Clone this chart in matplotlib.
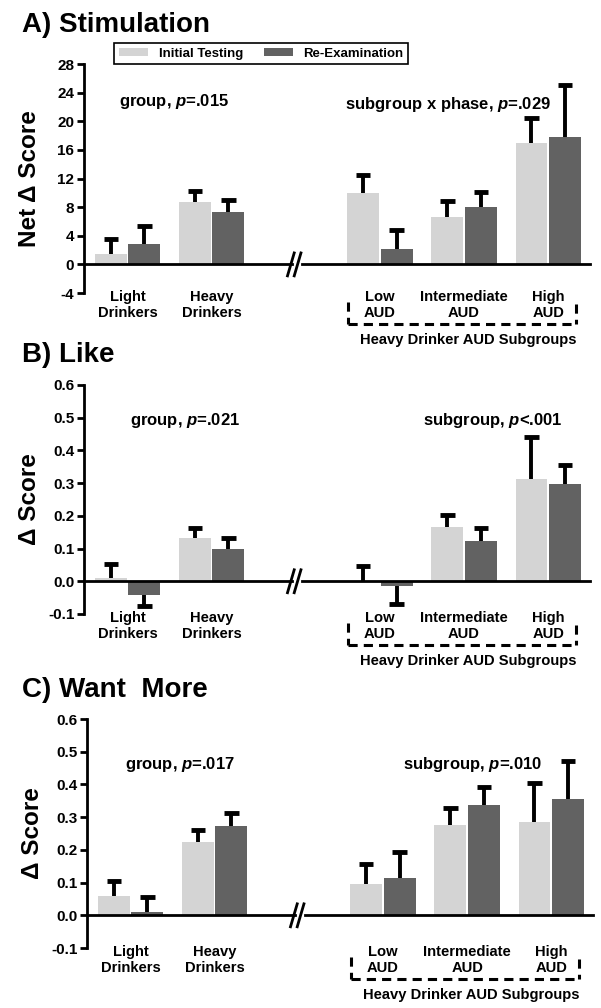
import numpy as np
from matplotlib import pyplot as plt

plt.rcParams['font.family'] = ['Liberation Sans', 'DejaVu Sans']
plt.rcParams['font.weight'] = 'bold'
plt.rcParams['mathtext.fontset'] = 'custom'
plt.rcParams['mathtext.rm'] = 'Liberation Sans:bold'
plt.rcParams['mathtext.it'] = 'Liberation Sans:italic:bold'

# Datos
groups = ['Light\nDrinkers', 'Heavy\nDrinkers', 'Low\nAUD', 'Intermediate\nAUD', 'High\nAUD']
group_x = [0, 1, 3, 4, 5]

stim_initial = [1.5, 8.7, 10.0, 6.6, 16.9]
stim_initial_err = [3.5, 10.3, 12.5, 8.85, 20.4]
stim_reexam = [2.9, 7.3, 2.2, 8.0, 17.8]
stim_reexam_err = [5.3, 9.0, 4.8, 10.1, 25.0]

like_initial = [0.010, 0.131, 0.0, 0.167, 0.313]
like_initial_err = [0.053, 0.162, 0.046, 0.204, 0.44]
like_reexam = [-0.041, 0.099, -0.016, 0.124, 0.296]
like_reexam_err = [-0.077, 0.131, -0.069, 0.163, 0.355]

want_initial = [0.059, 0.223, 0.097, 0.276, 0.286]
want_initial_err = [0.106, 0.261, 0.157, 0.327, 0.403]
want_reexam = [0.011, 0.272, 0.115, 0.338, 0.355]
want_reexam_err = [0.056, 0.314, 0.193, 0.391, 0.472]

panels = [
    dict(title='A) Stimulation', title_y=0.975, ylabel='Net Δ Score', ylim=(-4, 28),
         ticks=np.arange(-4, 29, 4), fmt='{:g}',
         ini=stim_initial, ini_e=stim_initial_err, re=stim_reexam, re_e=stim_reexam_err,
         txt1=('group, $p$=.015', 0.55, 22.7), txt2=('subgroup x phase, $p$=.029', 3.81, 22.4),
         rect=[0.1398, 0.7093, 0.8422, 0.2272]),
    dict(title='B) Like', title_y=0.648, ylabel='Δ Score', ylim=(-0.1, 0.6),
         ticks=np.arange(-0.1, 0.61, 0.1), fmt='{:.1f}',
         ini=like_initial, ini_e=like_initial_err, re=like_reexam, re_e=like_reexam_err,
         txt1=('group, $p$=.021', 0.68, 0.49), txt2=('subgroup, $p$<.001', 4.34, 0.49),
         rect=[0.1398, 0.3909, 0.8422, 0.2272]),
    dict(title='C) Want  More', title_y=0.3155, ylabel='Δ Score', ylim=(-0.1, 0.6),
         ticks=np.arange(-0.1, 0.61, 0.1), fmt='{:.1f}',
         ini=want_initial, ini_e=want_initial_err, re=want_reexam, re_e=want_reexam_err,
         txt1=('group, $p$=.017', 0.59, 0.462), txt2=('subgroup, $p$=.010', 4.07, 0.462),
         rect=[0.1448, 0.0595, 0.8422, 0.2272]),
]

light = '#d4d4d4'
dark = '#626262'
w = 0.38
off = 0.198
cap = 0.085

fig = plt.figure(figsize=(6.01, 10.08), dpi=100)

for i, p in enumerate(panels):
    ax = fig.add_axes(p['rect'])
    x = np.array(group_x, dtype=float)
    ax.bar(x - off, p['ini'], width=w, color=light, label='Initial Testing', zorder=2)
    ax.bar(x + off, p['re'], width=w, color=dark, label='Re-Examination', zorder=2)

    # Barras de error de un solo lado (tallo + tapa)
    for xs, vals, errs in [(x - off, p['ini'], p['ini_e']), (x + off, p['re'], p['re_e'])]:
        for xx, v, e in zip(xs, vals, errs):
            ax.plot([xx, xx], [v, e], color='black', lw=2.8, solid_capstyle='butt', zorder=1)
            ax.plot([xx - cap, xx + cap], [e, e], color='black', lw=3.5, solid_capstyle='butt', zorder=1)

    ax.set_xlim(-0.52, 5.5)
    ax.set_ylim(*p['ylim'])
    ax.set_yticks(p['ticks'])
    ax.set_yticklabels([p['fmt'].format(0) if abs(t) < 1e-9 else p['fmt'].format(round(t, 2))
                        for t in p['ticks']], fontsize=11, fontweight='bold')
    ax.set_xticks(group_x)
    ax.set_xticklabels(groups, fontsize=10.6, fontweight='bold', linespacing=1.25)
    ax.tick_params(axis='x', length=0, pad=-2.5)
    ax.tick_params(axis='y', length=5, width=2, direction='out', pad=2)
    for s in ['top', 'right', 'bottom']:
        ax.spines[s].set_visible(False)
    ax.spines['left'].set_linewidth(2)

    # Línea cero con corte
    ax.plot([-0.52, 1.95], [0, 0], color='black', lw=2, clip_on=False, zorder=3)
    ax.plot([2.07, 5.5], [0, 0], color='black', lw=2, clip_on=False, zorder=3)
    yr = p['ylim'][1] - p['ylim'][0]
    h = 0.05 * yr
    for dx in [-0.03, 0.05]:
        ax.plot([1.97 + dx - 0.04, 1.97 + dx + 0.04], [-h, h], color='black', lw=2,
                clip_on=False, zorder=3)

    t1, tx1, ty1 = p['txt1']
    t2, tx2, ty2 = p['txt2']
    ax.text(tx1, ty1, t1, ha='center', va='center', fontsize=12, fontweight='bold')
    ax.text(tx2, ty2, t2, ha='center', va='center', fontsize=12, fontweight='bold')

    # Corchete punteado de subgrupos
    tr = ax.get_xaxis_transform()
    dash = dict(color='black', lw=2.2, ls=(0, (3, 2)), clip_on=False, transform=tr)
    ax.plot([2.62, 2.62], [-0.04, -0.135], **dash)
    ax.plot([5.33, 5.33], [-0.05, -0.135], **dash)
    ax.plot([2.62, 5.33], [-0.135, -0.135], **dash)
    ax.text(4.05, -0.205, 'Heavy Drinker AUD Subgroups', transform=tr, ha='center', va='center',
            fontsize=10.6, fontweight='bold')

    fig.text(p['rect'][0] - 0.091, p['rect'][1] + p['rect'][3] / 2, p['ylabel'], rotation=90,
             ha='center', va='center', fontsize=17.5, fontweight='bold')
    fig.text(0.037, p['title_y'], p['title'], ha='left', va='center',
             fontsize=20, fontweight='bold')

    if i == 0:
        leg = ax.legend(loc='lower left', bbox_to_anchor=(0.047, 0.97), ncol=2, fancybox=False,
                        edgecolor='black', framealpha=1, handlelength=2.2, handleheight=0.5,
                        columnspacing=1.6, borderpad=0.35, prop={'weight': 'bold', 'size': 9.5})
        leg.get_frame().set_linewidth(1.2)

fig.savefig('out.png', dpi=100)
